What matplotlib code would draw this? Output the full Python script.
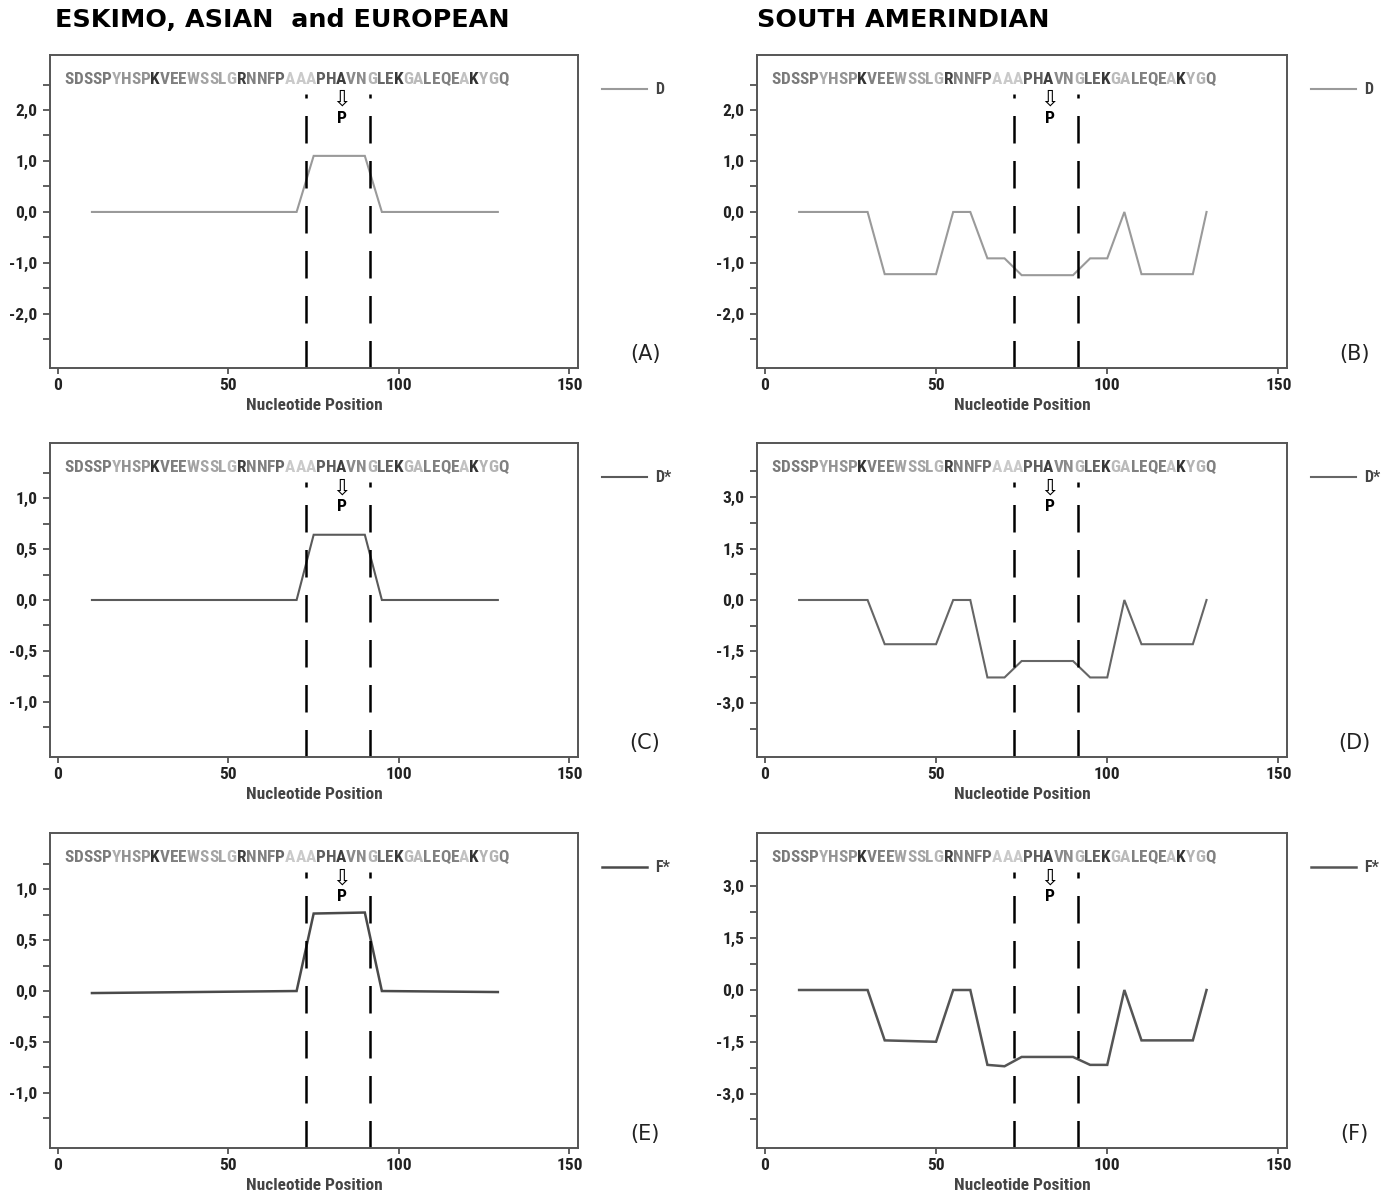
import matplotlib
matplotlib.use('Agg')
import matplotlib.pyplot as plt
import matplotlib.transforms as mtransforms
from matplotlib.ticker import FixedLocator, FuncFormatter
from matplotlib.lines import Line2D

# Hydrophobicity / flexibility profiles along the peptide
x_left = [10, 70, 75, 90, 95, 129]
y_A = [0, 0, 1.1, 1.1, 0, 0]
y_C = [0, 0, 0.64, 0.64, 0, 0]
y_E = [-0.02, 0.0, 0.76, 0.77, 0.0, -0.01]

x_right = [10, 30, 35, 50, 55, 60, 65, 70, 75, 90, 95, 100, 105, 110, 125, 129]
y_B = [0, 0, -1.22, -1.22, 0, 0, -0.91, -0.91, -1.24, -1.24, -0.91, -0.91, 0, -1.22, -1.22, 0]
y_D = [0, 0, -1.29, -1.29, 0, 0, -2.26, -2.26, -1.78, -1.78, -2.26, -2.26, 0, -1.29, -1.29, 0]
y_F = [0, 0, -1.46, -1.50, 0, 0, -2.17, -2.21, -1.94, -1.94, -2.17, -2.17, 0, -1.46, -1.46, 0]

boundaries = [72.9, 91.4]
mutation_x = 83.2

sequence = "SDSSPYHSPKVEEWSSLGRNNFPAAAPHAVNGLEKGALEQEAKYGQ"
shades = ['#7a7a7a', '#7a7a7a', '#7a7a7a', '#7a7a7a', '#7a7a7a',
          '#ababab', '#929292', '#929292', '#929292',
          '#333333',
          '#808080', '#808080', '#808080',
          '#a3a3a3', '#a3a3a3', '#a3a3a3', '#a3a3a3',
          '#b8b8b8',
          '#404040',
          '#808080', '#808080', '#808080',
          '#666666',
          '#cacaca', '#cacaca', '#cacaca',
          '#5e5e5e', '#5e5e5e',
          '#3e3e3e',
          '#8a8a8a', '#8a8a8a',
          '#b3b3b3',
          '#666666', '#666666',
          '#383838',
          '#bababa', '#bababa',
          '#808080', '#808080', '#808080', '#808080',
          '#c2c2c2',
          '#333333',
          '#b3b3b3', '#b3b3b3',
          '#808080']

narrow = ['Roboto Condensed', 'Liberation Sans Narrow', 'Roboto', 'DejaVu Sans']

fig = plt.figure(figsize=(13.91, 11.97), dpi=100)
fig.patch.set_facecolor('white')

left_x0, left_w = 50 / 1391, 528 / 1391
right_x0, right_w = 757 / 1391, 530 / 1391
rows = [(0.6926, 0.2615), (0.3676, 0.2623), (0.0409, 0.2632)]

panels = [
    # (col, row, x, y, color, lw, legend, letter, ylim, major, minor)
    ('L', 0, x_left, y_A, '#9a9a9a', 1.5, 'D', '(A)', (-3.06, 3.08),
     [-2, -1, 0, 1, 2], [-2.5, -1.5, -0.5, 0.5, 1.5, 2.5]),
    ('R', 0, x_right, y_B, '#9a9a9a', 1.5, 'D', '(B)', (-3.06, 3.08),
     [-2, -1, 0, 1, 2], [-2.5, -1.5, -0.5, 0.5, 1.5, 2.5]),
    ('L', 1, x_left, y_C, '#5a5a5a', 1.5, 'D*', '(C)', (-1.54, 1.54),
     [-1, -0.5, 0, 0.5, 1], [-1.25, -0.75, -0.25, 0.25, 0.75, 1.25]),
    ('R', 1, x_right, y_D, '#666666', 1.5, 'D*', '(D)', (-4.58, 4.58),
     [-3, -1.5, 0, 1.5, 3], [-3.75, -2.25, -0.75, 0.75, 2.25, 3.75]),
    ('L', 2, x_left, y_E, '#4a4a4a', 1.8, 'F*', '(E)', (-1.54, 1.55),
     [-1, -0.5, 0, 0.5, 1], [-1.25, -0.75, -0.25, 0.25, 0.75, 1.25]),
    ('R', 2, x_right, y_F, '#555555', 1.8, 'F*', '(F)', (-4.58, 4.55),
     [-3, -1.5, 0, 1.5, 3], [-3.75, -2.25, -0.75, 0.75, 2.25, 3.75]),
]

comma = FuncFormatter(lambda v, pos: f"{v:.1f}".replace('.', ','))

for col, row, xs, ys, color, lw, leg, letter, ylim, major, minor in panels:
    x0, w = (left_x0, left_w) if col == 'L' else (right_x0, right_w)
    b, h = rows[row]
    ax = fig.add_axes([x0, b, w, h])
    ax.set_xlim(-2.3, 152.5)
    ax.set_ylim(*ylim)

    ax.plot(xs, ys, color=color, lw=lw, solid_joinstyle='miter')

    # region boundaries
    for bx in boundaries:
        ax.axvline(bx, ymin=0, ymax=0.875, color='black', lw=1.8,
                   dashes=(11, 7))

    # coloured peptide sequence along the top
    trans = mtransforms.blended_transform_factory(ax.transData, ax.transAxes)
    t = ax.text(1.9, 0.922, sequence[0], transform=trans, color=shades[0],
                fontsize=12.4, fontweight='bold', family=narrow,
                fontstretch='condensed', ha='left', va='center')
    for ch, sh in zip(sequence[1:], shades[1:]):
        t = ax.annotate(ch, xy=(1, 0), xycoords=t, color=sh,
                        fontsize=12.4, fontweight='bold', family=narrow,
                        fontstretch='condensed', ha='left', va='bottom')

    # mutation marker
    ax.text(mutation_x, 0.856, '\u21e9', transform=trans, fontsize=16,
            ha='center', va='center', color='black')
    ax.text(mutation_x, 0.798, 'P', transform=trans, fontsize=12.5,
            fontweight='bold', family=narrow, ha='center', va='center',
            color='black')

    # axes styling
    for s in ax.spines.values():
        s.set_color('#555555')
        s.set_linewidth(1.4)
    ax.yaxis.set_major_locator(FixedLocator(major))
    ax.yaxis.set_minor_locator(FixedLocator(minor))
    ax.yaxis.set_major_formatter(comma)
    ax.set_xticks([0, 50, 100, 150])
    ax.tick_params(axis='both', which='both', direction='out', color='#444444',
                   width=1.2, length=5, pad=4)
    ax.tick_params(axis='x', length=4, pad=3)
    for lab in ax.get_xticklabels() + ax.get_yticklabels():
        lab.set_family(narrow)
        lab.set_fontweight('bold')
        lab.set_fontsize(12.5)
        lab.set_color('#222222')
    ax.set_xlabel('Nucleotide Position', family=narrow, fontweight='bold',
                  fontsize=12.5, color='#444444', labelpad=4)

    # legend entry outside the frame
    ax.add_line(Line2D([1.046, 1.131], [0.891, 0.891], transform=ax.transAxes,
                       color=color, lw=lw, clip_on=False))
    ax.text(1.146, 0.891, leg, transform=ax.transAxes, fontsize=11.5,
            fontweight='bold', family=narrow, color='#444444',
            ha='left', va='center')

    # panel letter
    ax.text(1.127, 0.045, letter, transform=ax.transAxes, fontsize=15,
            ha='center', va='center', color='#222222')

fig.text(55 / 1391, 0.983, 'ESKIMO, ASIAN  and EUROPEAN', fontsize=18.3,
         fontweight='bold', ha='left', va='center')
fig.text(757 / 1391, 0.983, 'SOUTH AMERINDIAN', fontsize=18.3,
         fontweight='bold', ha='left', va='center')

fig.savefig('out.png', dpi=100, facecolor='white')
